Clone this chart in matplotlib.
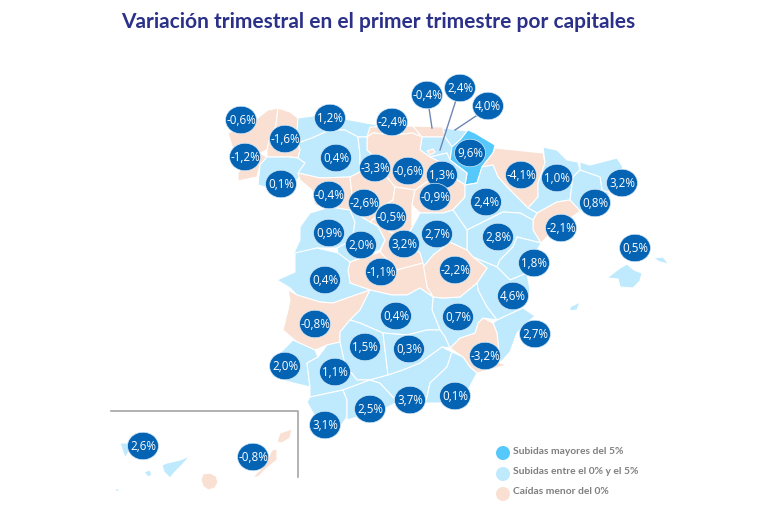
import matplotlib
matplotlib.use("Agg")
import matplotlib.pyplot as plt
from matplotlib.patches import Polygon, Ellipse

# =============================================================================
# STYLE
# =============================================================================
BUBBLE_COLOR = '#0563b3'
HIGH_COLOR = '#55c9fc'
MID_COLOR = '#bfeafd'
LOW_COLOR = '#fae0d2'
TITLE_COLOR = '#2b3088'
LEGEND_TEXT = '#7f7f7f'
COLORS = {'high': HIGH_COLOR, 'mid': MID_COLOR, 'low': LOW_COLOR}

# =============================================================================
# DATA
# =============================================================================
TITLE = "Variación trimestral en el primer trimestre por capitales"

labels = ['-0,6%', '-1,6%', '1,2%', '-2,4%', '-0,4%', '2,4%', '4,0%', '-1,2%', '0,4%', '-3,3%',
          '-0,6%', '0,1%', '1,3%', '9,6%', '-4,1%', '1,0%', '3,2%', '0,8%', '-0,4%', '-2,6%',
          '-0,9%', '2,4%', '-0,5%', '0,9%', '2,0%', '3,2%', '2,7%', '2,8%', '-2,1%', '0,5%',
          '1,8%', '-1,1%', '-2,2%', '0,4%', '4,6%', '0,4%', '0,7%', '-0,8%', '2,7%', '1,5%',
          '0,3%', '-3,2%', '2,0%', '1,1%', '3,7%', '0,1%', '2,5%', '3,1%', '2,6%', '-0,8%']

bubble_x = [241, 285, 330, 392, 427, 460, 488, 245, 336, 375,
            408, 281, 442, 470, 521, 557, 622, 595, 329, 364,
            435, 486, 391, 329, 361, 404, 437, 498, 561, 635,
            534, 381, 455, 325, 513, 396, 458, 315, 535, 365,
            409, 485, 285, 335, 410, 455, 370, 325, 143, 253]
bubble_y = [120, 139, 118, 122, 95, 88, 106, 157, 158, 168,
            171, 184, 175, 153, 175, 178, 183, 203, 195, 203,
            197, 202, 217, 233, 245, 244, 234, 237, 228, 248,
            263, 272, 270, 280, 296, 316, 317, 324, 334, 347,
            349, 356, 366, 372, 400, 396, 409, 425, 446, 457]

# leader lines from the Basque bubbles to their provinces
leader_x = [[429, 432], [456, 440], [476, 455]]
leader_y = [[108, 128], [100, 150], [116, 130]]

inset_x = [111, 298, 298]
inset_y = [411, 411, 477]

legend_labels = ['Subidas mayores del 5%', 'Subidas entre el 0% y el 5%', 'Caídas menor del 0%']
legend_keys = ['high', 'mid', 'low']
legend_y = [451, 472, 492]

# province outlines, in image pixels
provinces = [
    ('low', [(228, 133), (245, 125), (255, 120), (268, 110), (278, 108), (276, 125), (270, 137), (267, 150), (260, 153), (250, 155), (240, 155), (232, 146)]),  # A Coruna
    ('low', [(278, 108), (290, 112), (298, 118), (297, 140), (300, 150), (298, 158), (290, 157), (267, 157), (267, 150), (270, 137), (276, 125)]),  # Lugo
    ('low', [(240, 155), (250, 155), (260, 153), (267, 157), (260, 165), (257, 177), (238, 181), (238, 173), (245, 163)]),  # Pontevedra
    ('mid', [(267, 157), (290, 157), (298, 158), (305, 163), (303, 172), (297, 180), (280, 180), (265, 187), (258, 185), (260, 165)]),  # Ourense
    ('mid', [(298, 118), (320, 115), (350, 120), (377, 125), (367, 137), (358, 137), (345, 130), (330, 130), (312, 138), (298, 143), (297, 130)]),  # Asturias
    ('low', [(370, 127), (413, 126), (422, 137), (412, 133), (395, 135), (373, 133), (367, 137)]),  # Cantabria
    ('low', [(413, 126), (443, 127), (445, 137), (422, 137)]),  # Bizkaia
    ('mid', [(443, 128), (468, 131), (460, 140), (452, 147), (445, 137)]),  # Gipuzkoa
    ('mid', [(422, 137), (445, 137), (452, 147), (450, 160), (447, 153), (430, 157), (420, 150)]),  # Alava
    ('high', [(468, 130), (475, 133), (495, 145), (493, 153), (482, 167), (477, 183), (465, 185), (467, 173), (450, 160), (452, 147), (460, 140)]),  # Navarra
    ('mid', [(430, 157), (447, 153), (450, 160), (467, 173), (465, 185), (450, 175), (438, 178), (440, 162)]),  # La Rioja
    ('low', [(373, 133), (395, 135), (412, 133), (422, 137), (420, 150), (430, 157), (440, 162), (438, 178), (430, 180), (415, 190), (395, 187), (385, 175), (377, 160), (367, 150), (367, 137)]),  # Burgos
    ('mid', [(298, 143), (312, 138), (330, 130), (345, 130), (358, 137), (360, 155), (360, 172), (350, 177), (320, 178), (298, 173), (305, 163), (298, 158), (300, 150)]),  # Leon
    ('mid', [(358, 137), (367, 137), (367, 150), (377, 160), (372, 173), (360, 172), (360, 155)]),  # Palencia
    ('low', [(298, 173), (320, 178), (350, 177), (352, 195), (350, 210), (330, 207), (315, 205), (312, 190), (300, 180)]),  # Zamora
    ('low', [(350, 177), (360, 172), (372, 173), (385, 175), (395, 187), (393, 200), (385, 205), (375, 218), (370, 222), (350, 210), (352, 195)]),  # Valladolid
    ('low', [(393, 200), (395, 187), (415, 190), (412, 205), (412, 228), (405, 238), (390, 232), (375, 218), (385, 205)]),  # Segovia
    ('low', [(430, 180), (438, 178), (450, 175), (465, 185), (465, 197), (453, 210), (443, 213), (420, 213), (412, 205), (415, 190)]),  # Soria
    ('low', [(493, 153), (495, 148), (543, 153), (545, 163), (538, 183), (538, 197), (528, 208), (510, 190), (498, 177), (493, 165), (482, 167)]),  # Huesca
    ('mid', [(543, 147), (557, 150), (567, 160), (578, 162), (580, 170), (573, 177), (570, 200), (557, 202), (537, 213), (528, 208), (538, 197), (538, 183), (545, 163)]),  # Lleida
    ('mid', [(580, 162), (590, 165), (617, 158), (623, 167), (617, 180), (607, 193), (602, 190), (600, 177), (580, 170)]),  # Girona
    ('mid', [(573, 177), (580, 170), (600, 177), (602, 190), (610, 193), (600, 202), (580, 211), (570, 200)]),  # Barcelona
    ('low', [(570, 200), (580, 211), (575, 215), (557, 227), (547, 237), (541, 243), (533, 230), (533, 220), (537, 213), (557, 202)]),  # Tarragona
    ('mid', [(465, 185), (477, 183), (482, 167), (493, 165), (498, 177), (510, 190), (528, 208), (537, 213), (533, 220), (520, 213), (503, 212), (477, 225), (467, 230), (453, 210), (465, 197)]),  # Zaragoza
    ('mid', [(477, 225), (503, 212), (520, 213), (533, 220), (533, 230), (541, 243), (517, 237), (513, 247), (500, 260), (497, 267), (473, 257), (467, 250), (467, 230)]),  # Teruel
    ('mid', [(517, 237), (541, 243), (533, 258), (527, 273), (510, 280), (497, 267), (500, 260), (513, 247)]),  # Castellon
    ('mid', [(473, 257), (497, 267), (510, 280), (527, 273), (530, 290), (527, 300), (523, 308), (497, 320), (487, 307), (478, 290), (477, 283), (487, 268)]),  # Valencia
    ('mid', [(497, 320), (523, 308), (535, 316), (527, 323), (517, 333), (510, 352), (500, 363), (497, 333), (493, 323)]),  # Alicante
    ('low', [(483, 318), (493, 323), (497, 333), (500, 363), (507, 365), (477, 373), (470, 367), (463, 357), (450, 348), (460, 338), (475, 333), (478, 323)]),  # Murcia
    ('mid', [(433, 297), (443, 298), (460, 297), (477, 283), (478, 290), (487, 307), (497, 320), (483, 318), (478, 323), (475, 333), (460, 338), (450, 348), (445, 337), (440, 330), (432, 310)]),  # Albacete
    ('low', [(423, 267), (433, 255), (450, 242), (467, 250), (473, 257), (487, 268), (477, 283), (460, 297), (443, 298), (433, 297), (427, 287)]),  # Cuenca
    ('mid', [(412, 228), (420, 213), (443, 213), (453, 210), (467, 230), (467, 250), (450, 242), (433, 255), (423, 267), (420, 253), (405, 238)]),  # Guadalajara
    ('mid', [(300, 227), (310, 213), (330, 207), (350, 210), (355, 222), (352, 240), (337, 248), (317, 248), (293, 255), (300, 240)]),  # Salamanca
    ('mid', [(355, 222), (350, 210), (370, 222), (378, 226), (385, 240), (380, 250), (350, 262), (338, 255), (337, 248), (352, 240)]),  # Avila
    ('low', [(370, 222), (375, 218), (390, 232), (405, 238), (420, 253), (423, 263), (397, 270), (380, 252), (385, 240), (378, 226)]),  # Madrid
    ('low', [(350, 262), (380, 252), (397, 270), (423, 263), (427, 287), (433, 297), (420, 288), (407, 295), (392, 295), (370, 290), (350, 283), (348, 270)]),  # Toledo
    ('mid', [(295, 253), (317, 248), (338, 253), (350, 262), (348, 270), (350, 283), (370, 290), (350, 297), (333, 303), (320, 302), (297, 295), (290, 288), (277, 280), (295, 272)]),  # Caceres
    ('low', [(288, 290), (297, 295), (320, 302), (333, 303), (350, 297), (370, 290), (360, 310), (350, 320), (340, 332), (340, 342), (327, 345), (315, 350), (297, 342), (283, 330), (288, 310), (290, 300)]),  # Badajoz
    ('mid', [(370, 290), (392, 295), (407, 295), (420, 288), (433, 297), (432, 310), (440, 330), (427, 330), (407, 335), (383, 333), (360, 323), (350, 320), (360, 310)]),  # Ciudad Real
    ('mid', [(340, 332), (350, 320), (360, 323), (383, 333), (385, 350), (388, 375), (370, 380), (357, 380), (345, 365), (340, 342)]),  # Cordoba
    ('mid', [(383, 333), (407, 335), (427, 330), (440, 330), (445, 337), (450, 348), (442, 347), (420, 363), (403, 370), (388, 375), (385, 350)]),  # Jaen
    ('mid', [(293, 340), (315, 350), (318, 357), (307, 363), (310, 387), (293, 383), (273, 377), (270, 367), (280, 353)]),  # Huelva
    ('mid', [(318, 357), (327, 345), (340, 342), (345, 365), (357, 380), (370, 380), (343, 390), (310, 397), (310, 387), (307, 363)]),  # Sevilla
    ('mid', [(310, 397), (343, 390), (347, 400), (347, 417), (340, 427), (323, 437), (317, 420), (307, 402)]),  # Cadiz
    ('mid', [(343, 390), (370, 380), (380, 383), (393, 397), (397, 402), (383, 410), (357, 417), (347, 420), (347, 400)]),  # Malaga
    ('mid', [(388, 375), (403, 370), (420, 363), (442, 347), (452, 352), (447, 367), (430, 383), (427, 397), (425, 403), (403, 402), (393, 397), (380, 383), (370, 380)]),  # Granada
    ('mid', [(452, 352), (463, 357), (470, 367), (477, 373), (468, 390), (460, 407), (440, 403), (425, 403), (427, 397), (430, 383), (447, 367)]),  # Almeria
    ('low', [(427, 151), (433, 149), (435, 152), (430, 155)]),  # Trevino
    ('mid', [(607, 278), (620, 268), (627, 264), (634, 270), (642, 273), (640, 281), (633, 288), (620, 287), (618, 279)]),  # Mallorca
    ('mid', [(653, 258), (663, 257), (669, 264), (660, 262)]),  # Menorca
    ('mid', [(570, 307), (580, 302), (577, 310), (570, 311)]),  # Ibiza
    ('mid', [(120, 443), (130, 443), (130, 450), (125, 458)]),  # La Palma
    ('mid', [(162, 465), (167, 463), (180, 460), (190, 456), (182, 465), (175, 472), (170, 478), (164, 472)]),  # Tenerife
    ('mid', [(144, 472), (150, 470), (152, 475), (148, 477)]),  # La Gomera
    ('mid', [(113, 489), (120, 489), (122, 486), (118, 492)]),  # El Hierro
    ('low', [(203, 474), (210, 473), (216, 476), (218, 482), (215, 488), (208, 490), (203, 486), (201, 480)]),  # Gran Canaria
    ('low', [(253, 477), (262, 468), (268, 458), (272, 450), (277, 449), (277, 460), (267, 468), (258, 477)]),  # Fuerteventura
    ('low', [(277, 442), (280, 433), (292, 429), (290, 438), (282, 443)]),  # Lanzarote
]

# =============================================================================
# FIGURE
# =============================================================================
fig = plt.figure(figsize=(7.68, 5.19), dpi=100)
ax = fig.add_axes([0, 0, 1, 1])
ax.set_xlim(0, 768)
ax.set_ylim(519, 0)
ax.axis('off')

for key, pts in provinces:
    ax.add_patch(Polygon(pts, closed=True, facecolor=COLORS[key], edgecolor='white',
                         linewidth=0.8, joinstyle='round', zorder=2))

# Leader lines + inset frame
for lx, ly in zip(leader_x, leader_y):
    ax.plot(lx, ly, color='#6f86b5', linewidth=1.0, zorder=3)
ax.plot(inset_x, inset_y, color='#a6a6a6', linewidth=1.2, zorder=3)

# Bubbles
for x, y, label in zip(bubble_x, bubble_y, labels):
    ax.add_patch(Ellipse((x, y), 31, 27.5, facecolor=BUBBLE_COLOR, edgecolor='#d5e9f7',
                         linewidth=0.5, zorder=4))
    ax.text(x, y + 0.5, label, color='white', fontsize=8.4, family='Open Sans',
            ha='center', va='center', zorder=5)

# Legend
for key, y, label in zip(legend_keys, legend_y, legend_labels):
    ax.add_patch(Ellipse((503, y + 2), 14, 14, facecolor=COLORS[key], edgecolor='none', zorder=4))
    ax.text(513, y, label, color=LEGEND_TEXT, fontsize=7.35, fontweight='bold',
            family='Lato', ha='left', va='center')

ax.text(378, 22, TITLE, color=TITLE_COLOR, fontsize=15, fontweight='bold', family='Lato',
        ha='center', va='center')

plt.savefig("out.png", dpi=100)
